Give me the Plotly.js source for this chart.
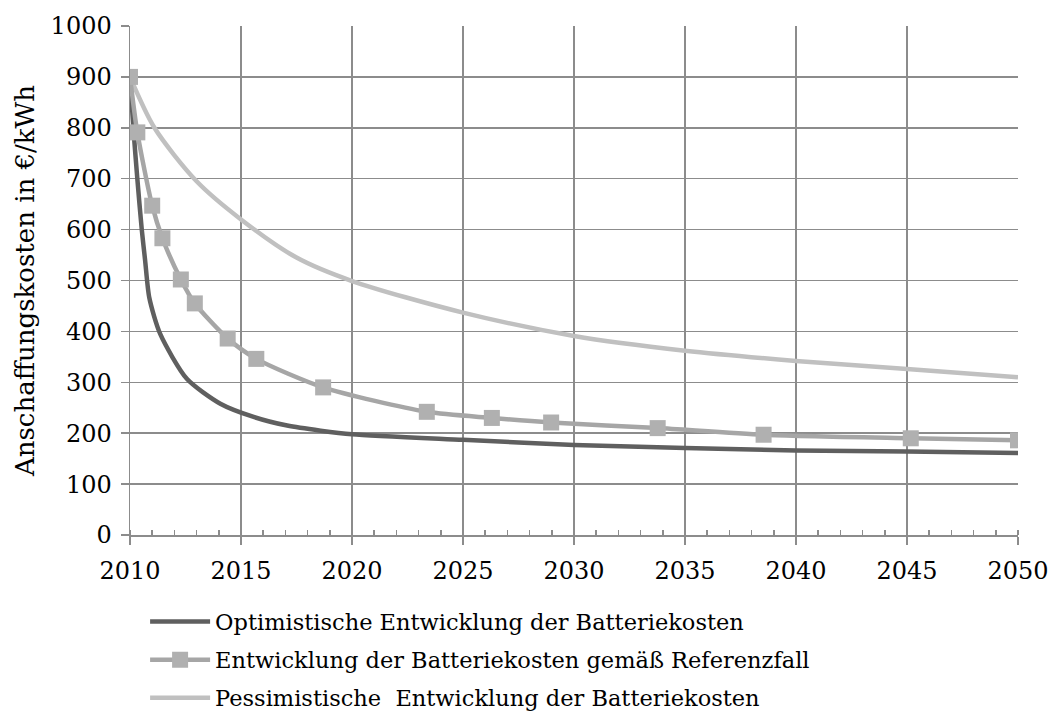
<!DOCTYPE html>
<html>
<head>
<meta charset="utf-8">
<script src="https://cdn.plot.ly/plotly-3.0.1.min.js"></script>
<style>html,body{margin:0;padding:0;background:#fff;}#chart{width:1051px;height:716px;}</style>
</head>
<body>
<div id="chart"></div>
<script>
// Optimistic scenario
const optYears = [2010, 2010.15, 2010.33, 2010.53, 2010.68, 2010.87, 2011.36, 2012.56, 2014.07, 2015.57, 2017.08, 2018.59, 2020, 2025, 2030, 2035, 2040, 2045, 2050];
const optCost  = [900, 800, 700, 600, 540, 466, 395, 307, 258, 232, 215, 205, 198, 187, 177, 171, 166, 164, 161];

// Reference scenario (with markers)
const refYears = [2010, 2010.33, 2011.0, 2011.46, 2012.29, 2012.92, 2014.4, 2015.69, 2018.7, 2023.37, 2026.3, 2028.97, 2033.77, 2038.54, 2045.17, 2050];
const refCost  = [900, 791, 647, 583, 502, 455, 386, 346, 290, 242, 230, 221, 210, 197, 190, 186];

// Pessimistic scenario
const pesYears = [2010, 2011.1, 2013, 2015, 2017.5, 2020, 2025, 2030, 2035, 2040, 2045, 2050];
const pesCost  = [900, 800, 695, 620, 545, 499, 437, 391, 362, 342, 326, 310];

const seriesNames = [
  'Optimistische Entwicklung der Batteriekosten',
  'Entwicklung der Batteriekosten gemäß Referenzfall',
  'Pessimistische  Entwicklung der Batteriekosten'
];
const yTitle = 'Anschaffungskosten in €/kWh';

const FONT = '"DejaVu Serif", "Liberation Serif", serif';

const traces = [
  {x: optYears, y: optCost, name: seriesNames[0], mode: 'lines', legend: 'legend',
   line: {color: '#5f5f5f', width: 4.5, shape: 'spline', smoothing: 0.7}},
  {x: pesYears, y: pesCost, name: seriesNames[2], mode: 'lines', legend: 'legend3',
   line: {color: '#c0c0c0', width: 4.5, shape: 'spline', smoothing: 0.8}},
  {x: refYears, y: refCost, name: seriesNames[1], mode: 'lines+markers', legend: 'legend2',
   line: {color: '#a6a6a6', width: 4.5, shape: 'spline', smoothing: 0.7},
   marker: {symbol: 'square', size: 16, color: '#b0b0b0'}}
];

const legBase = {x: 0.017, xanchor: 'left', yanchor: 'middle', yref: 'container',
  bgcolor: 'rgba(0,0,0,0)',
  font: {family: FONT, size: 22.5, color: '#000'}, itemwidth: 60};

const layout = {
  width: 1051, height: 716,
  margin: {l: 130, r: 33, t: 24, b: 181},
  paper_bgcolor: '#fff', plot_bgcolor: '#fff',
  font: {family: FONT, size: 24, color: '#000'},
  showlegend: true,
  legend:  Object.assign({}, legBase, {y: 0.1313}),
  legend2: Object.assign({}, legBase, {y: 0.0782}),
  legend3: Object.assign({}, legBase, {y: 0.0251}),
  xaxis: {
    range: [2010, 2050], dtick: 5, tick0: 2010,
    showgrid: true, gridcolor: '#8c8c8c', gridwidth: 1.5,
    showline: true, linecolor: '#8c8c8c', linewidth: 1.5,
    ticks: 'outside', ticklen: 8, tickcolor: '#8c8c8c', tickwidth: 1.5,
    ticklabelstandoff: 6,
    minor: {dtick: 1, ticks: 'inside', ticklen: 5, tickcolor: '#8c8c8c', showgrid: false},
    zeroline: false, tickfont: {family: FONT, size: 24}
  },
  yaxis: {
    range: [0, 1000], dtick: 100, automargin: true,
    showgrid: true, gridcolor: '#8c8c8c', gridwidth: 1.5,
    showline: true, linecolor: '#8c8c8c', linewidth: 1.5,
    ticks: 'outside', ticklen: 8, tickcolor: '#8c8c8c', tickwidth: 1.5,
    ticklabelstandoff: 4,
    zeroline: false, tickfont: {family: FONT, size: 24},
    title: {text: yTitle, font: {family: FONT, size: 26}, standoff: 8}
  }
};

Plotly.newPlot('chart', traces, layout, {displayModeBar: false, staticPlot: true});
</script>
</body>
</html>
